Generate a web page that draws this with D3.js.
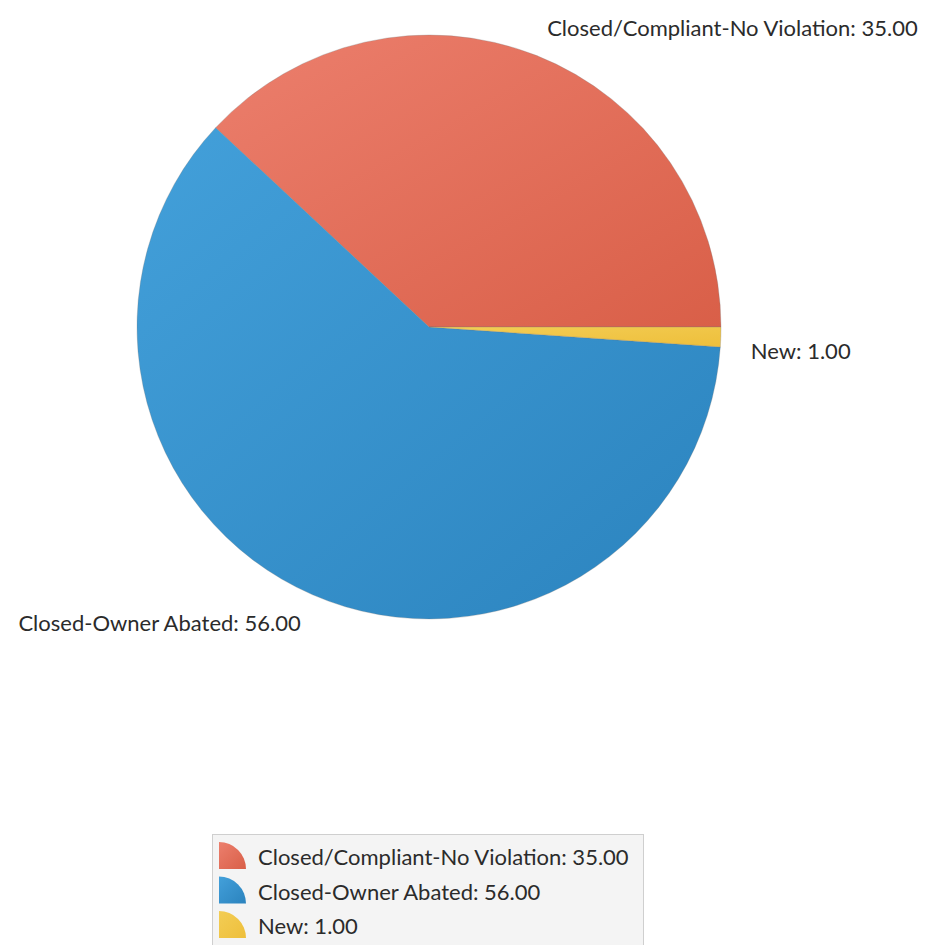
<!DOCTYPE html>
<html>
<head>
<meta charset="utf-8">
<script src="https://cdn.jsdelivr.net/npm/d3@7"></script>
<style>
  html, body { margin: 0; padding: 0; background: #ffffff; }
  svg { display: block; }
  text { font-family: Lato, "Open Sans", sans-serif; fill: #2b2b2b; }
</style>
</head>
<body>
<svg id="chart" width="930" height="945"></svg>
<script>
// ---- data ----
const categories = ["Closed/Compliant-No Violation", "Closed-Owner Abated", "New"];
const values = [35, 56, 1];
const colorsLight = ["#ec7f6d", "#43a0da", "#f3cd55"];
const colorsDark = ["#d95f48", "#2b83be", "#eebf3b"];

const cx = 429, cy = 327, R = 292;
const fontSize = 22;

const svg = d3.select("#chart");
const defs = svg.append("defs");

categories.forEach((c, i) => {
  const g = defs.append("linearGradient")
    .attr("id", "pg" + i)
    .attr("x1", "0%").attr("y1", "0%")
    .attr("x2", "100%").attr("y2", "100%");
  g.append("stop").attr("offset", "0%").attr("stop-color", colorsLight[i]);
  g.append("stop").attr("offset", "100%").attr("stop-color", colorsDark[i]);
});

const data = categories.map((c, i) => ({ name: c, value: values[i], i }));

// counter-clockwise starting at 3 o'clock
const pie = d3.pie()
  .value(d => d.value)
  .sort(null)
  .startAngle(Math.PI / 2)
  .endAngle(Math.PI / 2 - 2 * Math.PI);

const arcs = pie(data);
const arc = d3.arc().innerRadius(0).outerRadius(R);

const g = svg.append("g").attr("transform", `translate(${cx},${cy})`);
g.selectAll("path.slice")
  .data(arcs)
  .join("path")
  .attr("class", "slice")
  .attr("d", arc)
  .attr("fill", d => `url(#pg${d.data.i})`)
  .attr("stroke", "rgba(120,120,120,0.35)")
  .attr("stroke-width", 0.8);

// labels
const fmt = d3.format(".2f");
const labelR = R + 30;
g.selectAll("text.lbl")
  .data(arcs)
  .join("text")
  .attr("class", "lbl")
  .each(function (d) {
    const a = (d.startAngle + d.endAngle) / 2; // d3 angle (clockwise from 12)
    const x = Math.sin(a) * labelR;
    const y = -Math.cos(a) * labelR;
    const nearHoriz = Math.abs(Math.cos(a)) < 0.15;
    d3.select(this)
      .attr("x", x)
      .attr("y", nearHoriz ? y + fontSize * 0.55 : y)
      .attr("text-anchor", x >= 0 ? "start" : "end")
      .attr("dominant-baseline", "central");
  })
  .style("font-size", fontSize + "px")
  .text(d => `${d.data.name}: ${fmt(d.data.value)}`);

// legend
const legX = 212, legY = 834, legW = 431, legH = 130;
const rowH = 34.5, iconR = 27;
const leg = svg.append("g");
leg.append("rect")
  .attr("x", legX + 0.5).attr("y", legY + 0.5)
  .attr("width", legW).attr("height", legH)
  .attr("fill", "#f4f4f4")
  .attr("stroke", "#cfcfcf")
  .attr("stroke-width", 1);

const quarter = d3.arc().innerRadius(0).outerRadius(iconR).startAngle(0).endAngle(Math.PI / 2);
const rows = leg.selectAll("g.row")
  .data(data)
  .join("g")
  .attr("class", "row")
  .attr("transform", (d, i) => `translate(${legX + 7},${legY + 8 + i * rowH})`);
rows.append("path")
  .attr("d", quarter)
  .attr("transform", `translate(0,${iconR})`)
  .attr("fill", d => `url(#pg${d.i})`);
rows.append("text")
  .attr("x", 39)
  .attr("y", iconR / 2 + 1)
  .attr("dominant-baseline", "central")
  .style("font-size", fontSize + "px")
  .text(d => `${d.name}: ${fmt(d.value)}`);
</script>
</body>
</html>
